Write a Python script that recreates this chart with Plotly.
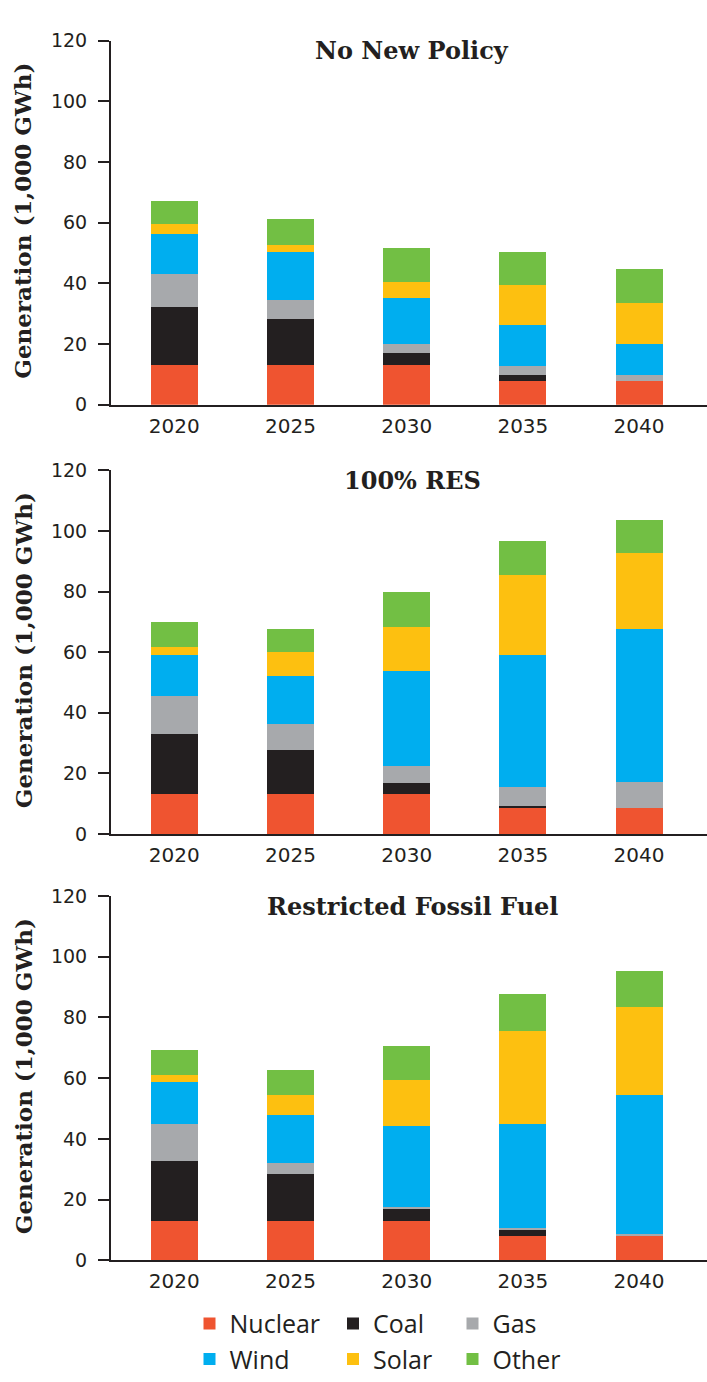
import plotly.graph_objects as go

W, H = 707, 1382

years = ["2020", "2025", "2030", "2035", "2040"]
scenarios = ["No New Policy", "100% RES", "Restricted Fossil Fuel"]
sources = ["Nuclear", "Coal", "Gas", "Wind", "Solar", "Other"]
colors = ["#ef5430", "#231f20", "#a7a9ac", "#00aeef", "#fdc010", "#72bf44"]
y_ticks = [0, 20, 40, 60, 80, 100, 120]

# No New Policy (1,000 GWh)
nnp_nuclear = [13.0, 13.0, 13.0, 8.0, 8.0]
nnp_coal = [19.1, 15.4, 4.0, 1.8, 0.0]
nnp_gas = [11.0, 6.1, 3.1, 3.1, 1.8]
nnp_wind = [13.1, 15.8, 15.1, 13.3, 10.2]
nnp_solar = [3.2, 2.5, 5.4, 13.3, 13.5]
nnp_other = [7.8, 8.4, 10.9, 10.8, 11.4]

# 100% RES
res_nuclear = [13.3, 13.3, 13.3, 8.8, 8.5]
res_coal = [19.8, 14.3, 3.5, 0.3, 0.0]
res_gas = [12.3, 8.7, 5.6, 6.5, 8.6]
res_wind = [13.8, 15.7, 31.3, 43.6, 50.6]
res_solar = [2.4, 7.9, 14.7, 26.1, 25.0]
res_other = [8.5, 7.7, 11.3, 11.4, 10.8]

# Restricted Fossil Fuel
rff_nuclear = [13.0, 13.0, 13.0, 8.1, 8.1]
rff_coal = [19.8, 15.5, 4.1, 1.8, 0.0]
rff_gas = [12.0, 3.6, 0.6, 0.8, 0.7]
rff_wind = [13.8, 15.7, 26.5, 34.1, 45.6]
rff_solar = [2.4, 6.7, 15.2, 30.8, 29.0]
rff_other = [8.4, 8.3, 11.2, 12.0, 12.0]

data = [
    [nnp_nuclear, nnp_coal, nnp_gas, nnp_wind, nnp_solar, nnp_other],
    [res_nuclear, res_coal, res_gas, res_wind, res_solar, res_other],
    [rff_nuclear, rff_coal, rff_gas, rff_wind, rff_solar, rff_other],
]

# panel pixel extents (top of 120, baseline 0)
panels_px = [(30, 400.5), (467, 837), (900, 1270.5)]
x_left_px = 111
legend_of = {"Nuclear": "legend", "Wind": "legend",
             "Coal": "legend2", "Solar": "legend2",
             "Gas": "legend3", "Other": "legend3"}

fig = go.Figure()
for p, series in enumerate(data):
    sfx = "" if p == 0 else str(p + 1)
    for s, name in enumerate(sources):
        fig.add_trace(go.Bar(
            x=years, y=series[s], name=name,
            marker=dict(color=colors[s], line=dict(width=0)),
            width=0.404,
            xaxis="x" + sfx, yaxis="y" + sfx,
            legendgroup=name, showlegend=(p == 0),
            legend=legend_of[name],
        ))

axis_color = "#231f20"
ytick_font = dict(family="DejaVu Sans", size=19, color=axis_color)
xtick_font = dict(family="DejaVu Sans", size=20, color=axis_color)
layout = dict(
    width=W, height=H,
    margin=dict(l=0, r=0, t=0, b=0),
    barmode="stack",
    plot_bgcolor="white", paper_bgcolor="white",
    font=dict(family="DejaVu Sans", color=axis_color),
    annotations=[],
)
for p, (top, bot) in enumerate(panels_px):
    sfx = "" if p == 0 else str(p + 1)
    dom_y = [1 - bot / H, 1 - top / H]
    layout["xaxis" + sfx] = dict(
        domain=[x_left_px / W, 1], anchor="y" + sfx,
        type="category", range=[-0.545, 4.585],
        showline=True, linecolor=axis_color, linewidth=2,
        ticks="", showgrid=False, zeroline=False,
        tickfont=xtick_font, ticklabelstandoff=2,
    )
    layout["yaxis" + sfx] = dict(
        domain=dom_y, anchor="x" + sfx,
        range=[0, 120], tickvals=y_ticks,
        showline=True, linecolor=axis_color, linewidth=2,
        ticks="outside", ticklen=11, tickwidth=2, tickcolor=axis_color,
        showgrid=False, zeroline=False,
        tickfont=ytick_font, ticklabelstandoff=7,
    )
    layout["annotations"].append(dict(
        text="<b>" + scenarios[p] + "</b>", xref="paper", yref="paper",
        x=412 / W, y=1 - (top + 10.5) / H, showarrow=False,
        font=dict(family="DejaVu Serif", size=24, color=axis_color),
        xanchor="center", yanchor="middle",
    ))
    layout["annotations"].append(dict(
        text="<b>Generation (1,000 GWh)</b>", xref="paper", yref="paper",
        x=23 / W, y=1 - ((top + bot) / 2 - 2) / H, showarrow=False,
        textangle=-90,
        font=dict(family="DejaVu Serif", size=23, color=axis_color),
        xanchor="center", yanchor="middle",
    ))

leg_common = dict(
    orientation="v", xanchor="left", yanchor="top",
    y=1 - 1311.5 / H, bgcolor="rgba(0,0,0,0)",
    font=dict(family="Open Sans", size=25, color=axis_color),
    traceorder="normal",
)
layout["legend"] = dict(leg_common, x=189.5 / W)
layout["legend2"] = dict(leg_common, x=333 / W)
layout["legend3"] = dict(leg_common, x=452.5 / W)

fig.update_layout(**layout)
fig.write_html("out.html", config={"displayModeBar": False},
               post_script="document.body.style.margin='0px';")
